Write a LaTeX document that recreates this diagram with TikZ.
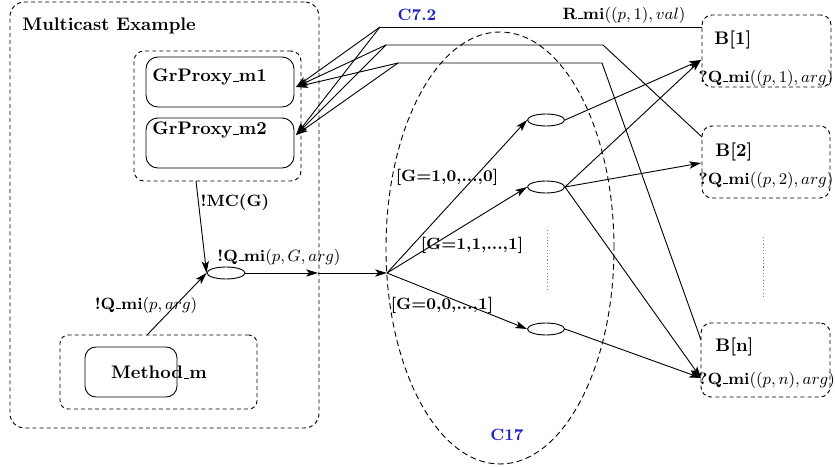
\documentclass[tikz,border=0pt]{standalone}
\usetikzlibrary{arrows.meta,shapes.geometric}
\definecolor{cblue}{RGB}{30,30,200}
\newcommand{\usc}{\leavevmode\kern.06em\vbox{\hrule width.3em height 0.4pt}}
\begin{document}
\begin{tikzpicture}[x=0.55pt,y=-0.55pt,line width=0.5pt,
  sz/.style 2 args={minimum width=#1*0.55pt,minimum height=#2*0.55pt,inner sep=0pt},
  dbox/.style={draw,dash pattern=on 2.2pt off 1.7pt,rounded corners=#1},
  sbox/.style={draw,rounded corners=#1},
  ell/.style={draw,ellipse,sz={37}{12}},
  txt/.style={inner sep=0pt,font=\bfseries},
  lab/.style={inner sep=0pt,font=\small\bfseries},
  clab/.style={inner sep=0pt,font=\small\bfseries,text=cblue},
  arr/.style={-{Stealth[length=6.5pt,width=4pt,inset=1.6pt]}},
  dots/.style={draw=gray,dash pattern=on 0.6pt off 1.2pt}]
\useasboundingbox (0,0) rectangle (835,467);
% left part
\node[dbox=8pt,sz={309}{426}] (outer) at (164.5,215) {};
\node[txt,anchor=west] (title) at (22,26) {Multicast Example};
\node[dbox=5.5pt,sz={167}{130}] (grp) at (217.5,116) {};
\node[sbox=6.5pt,sz={148}{50}] (m1) at (220,82) {};
\node[txt,anchor=west] (m1t) at (152,77) {GrProxy\usc m1};
\node[sbox=6.5pt,sz={148}{50}] (m2) at (220,143) {};
\node[txt,anchor=west] (m2t) at (152,130) {GrProxy\usc m2};
\node[dbox=4.5pt,sz={197}{74}] (meth) at (158.5,372) {};
\node[sbox=6pt,sz={92}{50}] (methb) at (131,372) {};
\node[txt] (metht) at (159,372) {Method\usc m};
\node[ell,sz={38}{12}] (e0) at (226,273) {};
\coordinate (gb) at (196,181);
\coordinate (mt) at (147,335);
\coordinate (M) at (318,273);
\coordinate (J) at (387,273);
% C17 region
\node[draw,ellipse,dash pattern=on 3.2pt off 2pt,sz={228}{432}] (c17) at (500,248) {};
\node[clab] (c17t) at (507,435) {C17};
\node[ell] (eA) at (546,120) {};
\node[ell] (eB) at (546,187) {};
\node[ell] (eC) at (546,329) {};
\draw[dots] (547,230) -- (547,292);
\draw[dots] (763,237) -- (763,297);
% B boxes
\node[dbox=5.5pt,sz={129}{72}] (B1) at (766.5,51) {};
\node[txt,anchor=west] (B1t) at (714,40) {B[1]};
\node[lab] (B1q) at (766,78) {?Q\usc mi$((p,1),arg)$};
\node[dbox=5.5pt,sz={128}{72}] (B2) at (766,162) {};
\node[txt,anchor=west] (B2t) at (715,152) {B[2]};
\node[lab] (B2q) at (766,180) {?Q\usc mi$((p,2),arg)$};
\node[dbox=5.5pt,sz={129}{74}] (Bn) at (765.5,360) {};
\node[txt,anchor=west] (Bnt) at (715,347) {B[n]};
\node[lab,anchor=west] (Bnq) at (698,380) {?Q\usc mi$((p,n),arg)$};
% top lines
\coordinate (c1) at (380,27);
\coordinate (c2) at (386,45);
\coordinate (c3) at (398,63);
\coordinate (k2) at (603,45);
\coordinate (k3) at (602,63);
\coordinate (p1) at (296,87);
\coordinate (p2) at (296,135);
\coordinate (b2a) at (702,137);
\coordinate (bna) at (701,340);
\coordinate (b1a) at (701,60);
\coordinate (b2b) at (701,163);
\coordinate (bnb) at (701,378);
\draw (c1) -- (c1 -| B1.west);
\draw (c2) -- (k2) -- (b2a);
\draw (c3) -- (k3) -- (bna);
\foreach \c in {c1,c2,c3} {\draw[arr] (\c) -- (p1); \draw[arr] (\c) -- (p2);}
\node[clab] (c72) at (417,15) {C7.2};
\node[lab] (rmi) at (624,15) {R\usc mi$((p,1),val)$};
% left connectors
\draw[arr] (gb) -- (e0.west);
\node[lab] (mcg) at (235,202) {!MC(G)};
\draw[arr] (mt) -- (e0.west);
\node[lab] (qpa) at (146,305) {!Q\usc mi$(p,arg)$};
\draw[arr] (e0.east) -- (M);
\draw[arr] (M) -- (J);
\node[lab] (qpga) at (279,257) {!Q\usc mi$(p,G,arg)$};
% fork
\draw[arr] (J) -- (eA.west);
\draw[arr] (J) -- (eB.west);
\draw[arr] (J) -- (eC.west);
\node[lab] (g1) at (447,177) {[G=1,0,...,0]};
\node[lab] (g2) at (472,245) {[G=1,1,...,1]};
\node[lab] (g3) at (442,305) {[G=0,0,...,1]};
\draw[arr] (eA.east) -- (b1a);
\draw[arr] (eB.east) -- (b1a);
\draw[arr] (eB.east) -- (b2b);
\draw[arr] (eB.east) -- (bnb);
\draw[arr] (eC.east) -- (bnb);
\end{tikzpicture}
\end{document}
